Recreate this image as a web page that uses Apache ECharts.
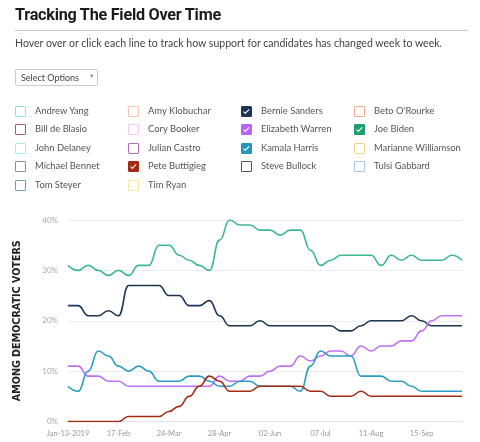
<!DOCTYPE html>
<html>
<head>
<meta charset="utf-8">
<script src="https://cdn.jsdelivr.net/npm/echarts@6/dist/echarts.min.js"></script>
<style>
  html,body{margin:0;padding:0;background:#fff;}
  body{width:480px;height:442px;position:relative;overflow:hidden;font-family:"Lato","Open Sans",sans-serif;}
  #chart{position:absolute;left:0;top:0;width:480px;height:442px;}
  .abs{position:absolute;z-index:2;}
  #title{left:15px;top:5px;font-family:"Roboto",sans-serif;font-weight:700;font-size:16.2px;color:#1a1a1a;letter-spacing:-0.25px;white-space:nowrap;}
  #rule{left:15px;top:30px;width:453px;height:0;border-top:1px solid #c8c8c8;}
  #sub{left:15px;top:37px;font-size:10.55px;color:#444;white-space:nowrap;}
  #sel{left:15px;top:69px;width:83px;height:17px;border:1px solid #ccc;border-radius:2px;font-size:9px;color:#444;box-sizing:border-box;}
  #sel span.t{position:absolute;left:5px;top:2px;}
  #sel span.a{position:absolute;left:73px;top:3px;font-size:5.5px;color:#888;}
  .item{position:absolute;z-index:2;height:12px;}
  .box{position:absolute;left:0;top:0;width:11px;height:11px;box-sizing:border-box;border:1px solid #999;border-radius:1px;background:#fff;}
  .box.on::after{content:"";position:absolute;left:3.3px;top:1.4px;width:2.2px;height:4.5px;border:solid #fff;border-width:0 1.2px 1.2px 0;transform:rotate(45deg);}
  .lab{position:absolute;left:20px;top:-1px;font-size:9.4px;color:#555;white-space:nowrap;}
</style>
</head>
<body>
<div id="chart"></div>
<div id="title" class="abs">Tracking The Field Over Time</div>
<div id="rule" class="abs"></div>
<div id="sub" class="abs">Hover over or click each line to track how support for candidates has changed week to week.</div>
<div id="sel" class="abs"><span class="t">Select Options</span><span class="a">▼</span></div>
<div id="legend"></div>
<script>
// ---- data ----
const weeks = ["Jan-13-2019","20-Jan","27-Jan","03-Feb","10-Feb","17-Feb","24-Feb","03-Mar","10-Mar","17-Mar",
  "24-Mar","31-Mar","07-Apr","14-Apr","21-Apr","28-Apr","05-May","12-May","19-May","26-May",
  "02-Jun","09-Jun","16-Jun","23-Jun","30-Jun","07-Jul","14-Jul","21-Jul","28-Jul","04-Aug",
  "11-Aug","18-Aug","25-Aug","01-Sep","08-Sep","15-Sep","22-Sep","29-Sep","06-Oct","13-Oct"];
const biden     = [31,30,31,30,29,30,29,31,31,35,35,33,32,31,30,36,40,39,39,38,38,37,38,38,34,31,32,33,33,33,33,31,33,32,33,32,32,32,33,32];
const sanders   = [23,23,21,21,22,21,27,27,27,27,25,25,23,23,24,21,19,19,19,20,19,19,19,19,19,19,19,18,18,19,20,20,20,20,21,20,19,19,19,19];
const warren    = [11,11,9,9,8,8,7,7,7,7,7,7,7,7,7,9,8,8,9,9,10,11,11,13,12,13,14,14,13,15,14,15,15,16,16,18,20,21,21,21];
const harris    = [7,6,10,14,13,11,10,11,10,8,8,8,9,9,8,7,7,8,8,7,7,7,7,6,11,14,13,13,13,9,9,9,8,8,7,6,6,6,6,6];
const buttigieg = [0,0,0,0,0,0,1,1,1,1,2,3,5,7,9,8,6,6,6,7,7,7,7,7,6,6,5,5,5,6,5,5,5,5,5,5,5,5,5,5];
const yTicks = [0,10,20,30,40];
const legendNames = ["Andrew Yang","Amy Klobuchar","Bernie Sanders","Beto O'Rourke",
  "Bill de Blasio","Cory Booker","Elizabeth Warren","Joe Biden",
  "John Delaney","Julian Castro","Kamala Harris","Marianne Williamson",
  "Michael Bennet","Pete Buttigieg","Steve Bullock","Tulsi Gabbard",
  "Tom Steyer","Tim Ryan"];
const legendColors = ["#8fe3e3","#f6c3b4","#1c3553","#f3a795",
  "#a86060","#f2c8f2","#b964f2","#1f9e6e",
  "#a8efe0","#b86cb8","#2596be","#f0d58a",
  "#7a93ad","#a52a14","#555555","#a9c4f3",
  "#6aa3a3","#f7e6a3"];
const legendChecked = ["Bernie Sanders","Elizabeth Warren","Joe Biden","Kamala Harris","Pete Buttigieg"];

// ---- legend (HTML checkboxes) ----
const lg = document.getElementById('legend');
legendNames.forEach((n,i)=>{
  const col = i%4, row = Math.floor(i/4);
  const d = document.createElement('div');
  d.className='item';
  d.style.left = (15 + col*113) + 'px';
  d.style.top = (105.5 + row*18.5) + 'px';
  const b = document.createElement('span');
  const on = legendChecked.includes(n);
  b.className = 'box' + (on ? ' on' : '');
  b.style.borderColor = legendColors[i];
  if(on) b.style.background = legendColors[i];
  const t = document.createElement('span');
  t.className='lab'; t.textContent = n;
  d.appendChild(b); d.appendChild(t); lg.appendChild(d);
});

// ---- chart ----
const chart = echarts.init(document.getElementById('chart'), null, {renderer:'canvas'});
function line(name, data, color){
  return {name, type:'line', data, smooth:0.5, smoothMonotone:'x', showSymbol:false, symbol:'none',
    lineStyle:{color, width:1.6}, itemStyle:{color}, z:3};
}
chart.setOption({
  animation:false,
  grid:{left:68, right:18, top:220, bottom:20.5},
  xAxis:{type:'category', data:weeks, boundaryGap:false,
    axisLine:{lineStyle:{color:'#dfe5ee', width:1}}, axisTick:{show:false},
    axisLabel:{interval:4, color:'#999', fontSize:7.5, fontFamily:'Lato', margin:8},
    splitLine:{show:false}},
  yAxis:{type:'value', min:0, max:40, interval:10,
    name:'AMONG DEMOCRATIC VOTERS', nameLocation:'middle', nameRotate:90, nameGap:46,
    nameTextStyle:{fontFamily:'DejaVu Sans', fontWeight:'bold', fontSize:9.6, color:'#222'},
    axisLine:{show:false}, axisTick:{show:false},
    axisLabel:{color:'#aaa', fontSize:8, fontFamily:'Lato', margin:10, formatter:'{value}%'},
    splitLine:{lineStyle:{color:'#ececec', width:1}}},
  series:[
    line('Joe Biden', biden, '#3cb88a'),
    line('Bernie Sanders', sanders, '#1c3553'),
    line('Elizabeth Warren', warren, '#c070f5'),
    line('Kamala Harris', harris, '#2a9cc4'),
    line('Pete Buttigieg', buttigieg, '#a52a14')
  ]
});
</script>
</body>
</html>
